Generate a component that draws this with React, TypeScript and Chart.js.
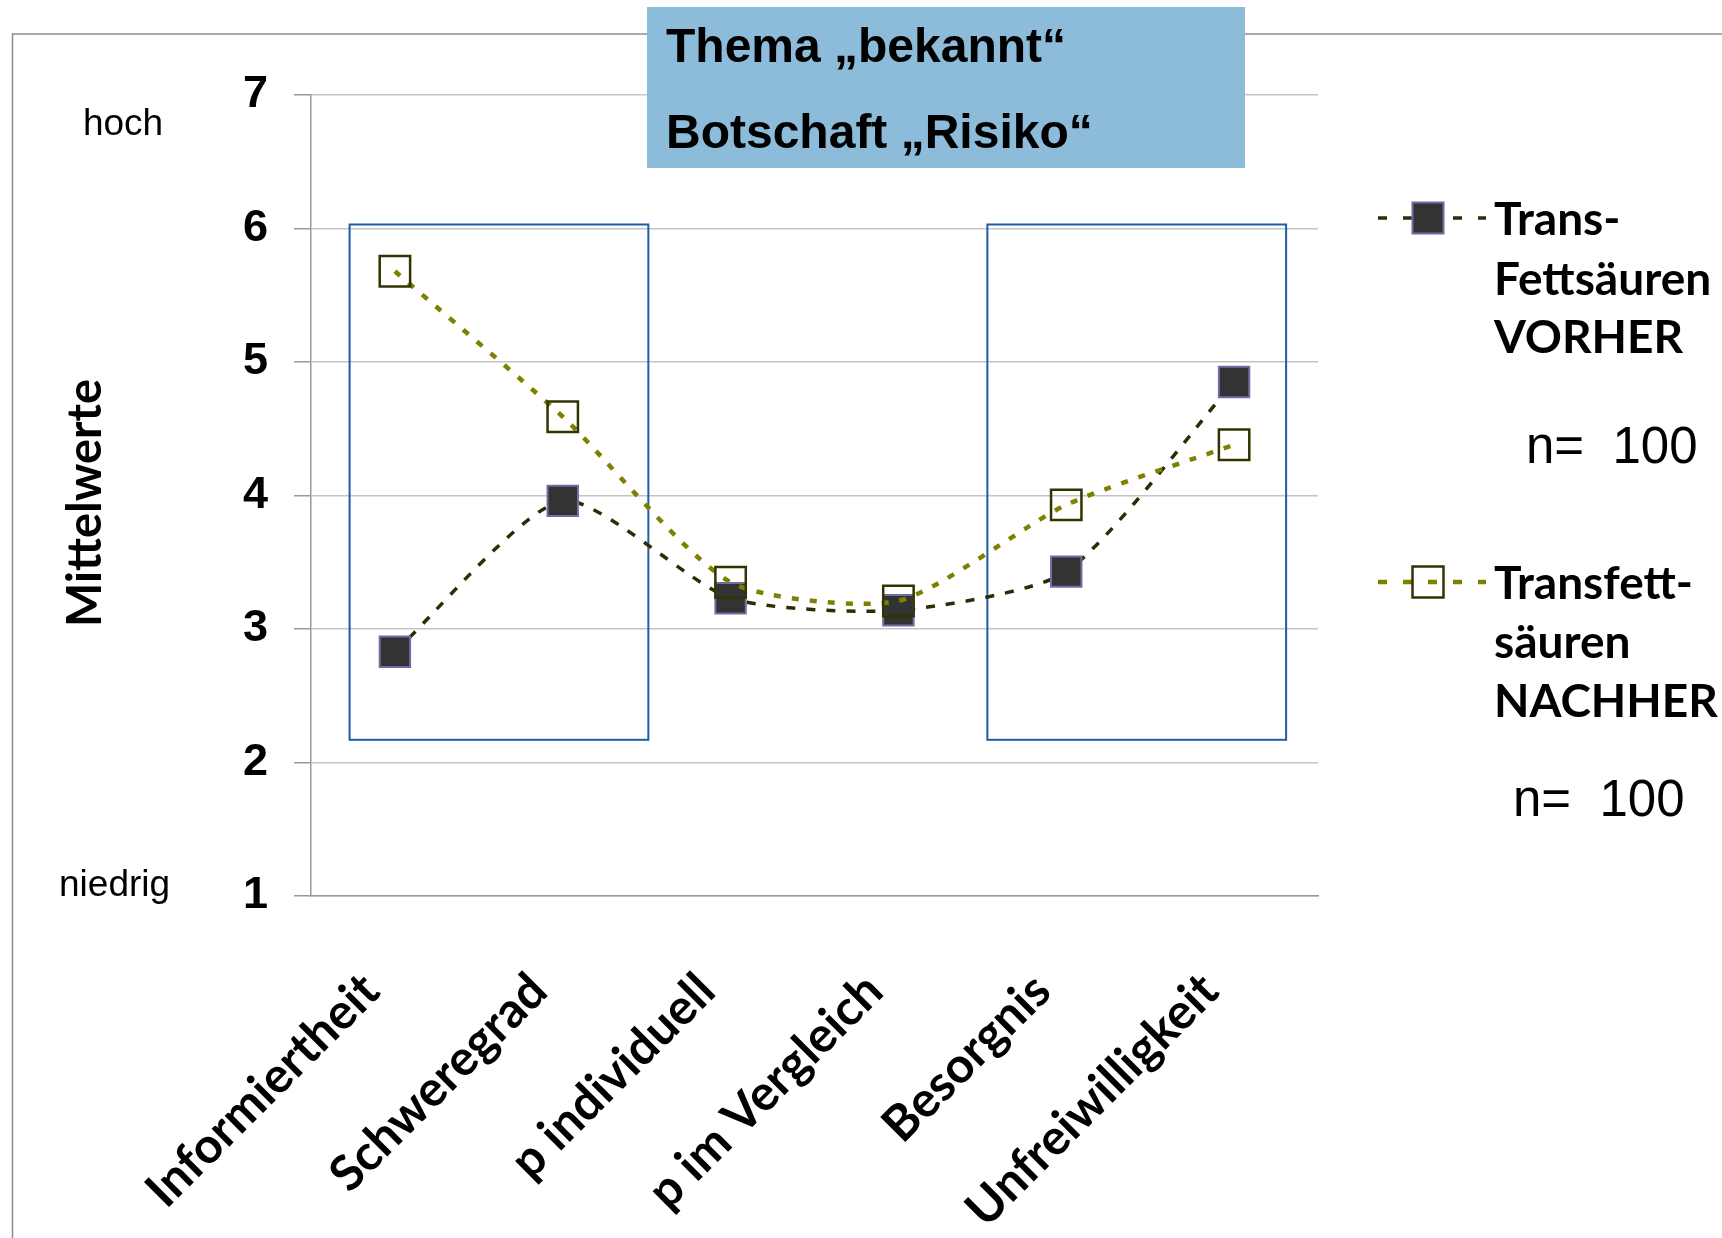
import React, { useEffect, useRef } from 'react';
import { Chart, registerables } from 'chart.js';

Chart.register(...registerables);

// ---- data ----
const categories = ['Informiertheit', 'Schweregrad', 'p individuell', 'p im Vergleich', 'Besorgnis', 'Unfreiwilligkeit'];
const vorherValues = [2.83, 3.96, 3.23, 3.14, 3.43, 4.85];
const nachherValues = [5.68, 4.59, 3.35, 3.21, 3.93, 4.38];
const seriesNames = ['Trans-Fettsäuren VORHER', 'Transfett-säuren NACHHER'];
const legendLines = [['Trans-', 'Fettsäuren', 'VORHER'], ['Transfett-', 'säuren', 'NACHHER']];
const sampleSizes = ['n=  100', 'n=  100'];
const titleLines = ['Thema „bekannt“', 'Botschaft „Risiko“'];
const axisTitle = 'Mittelwerte';
const scaleHigh = 'hoch';
const scaleLow = 'niedrig';
const yMin = 1;
const yMax = 7;
// highlighted category groups (category index range, value range)
const boxFromIndex = [-0.27, 3.53];
const boxToIndex = [1.51, 5.31];
const boxLowValue = [2.17, 2.17];
const boxHighValue = [6.03, 6.03];

const W = 1722;
const H = 1238;

const decorPlugin = {
  id: 'decor',
  beforeDraw(chart: any) {
    const ctx = chart.ctx;
    ctx.save();
    ctx.fillStyle = '#ffffff';
    ctx.fillRect(0, 0, chart.width, chart.height);
    ctx.strokeStyle = '#8c8c8c';
    ctx.lineWidth = 1.5;
    ctx.beginPath();
    ctx.moveTo(12.5, chart.height);
    ctx.lineTo(12.5, 34);
    ctx.lineTo(chart.width, 34);
    ctx.stroke();
    ctx.restore();
  },
  beforeDatasetsDraw(chart: any) {
    const ctx = chart.ctx;
    const xs = chart.scales.x;
    const ys = chart.scales.y;
    ctx.save();
    ctx.strokeStyle = '#1f5ca8';
    ctx.lineWidth = 2;
    for (let i = 0; i < boxFromIndex.length; i++) {
      const x1 = xs.getPixelForValue(boxFromIndex[i]);
      const x2 = xs.getPixelForValue(boxToIndex[i]);
      const y1 = ys.getPixelForValue(boxHighValue[i]);
      const y2 = ys.getPixelForValue(boxLowValue[i]);
      ctx.strokeRect(x1, y1, x2 - x1, y2 - y1);
    }
    ctx.restore();
  },
  afterDraw(chart: any) {
    const ctx = chart.ctx;
    ctx.save();
    // title box
    ctx.fillStyle = '#8cbcda';
    ctx.fillRect(647, 7, 598, 161);
    ctx.fillStyle = '#000';
    ctx.font = 'bold 48px "Liberation Sans", Arial, sans-serif';
    ctx.textAlign = 'left';
    ctx.textBaseline = 'alphabetic';
    ctx.fillText(titleLines[0], 666, 62);
    ctx.fillText(titleLines[1], 666, 148);

    // axis title
    ctx.save();
    ctx.translate(86, 503);
    ctx.rotate(-Math.PI / 2);
    ctx.font = 'bold 47px Lato, "Open Sans", sans-serif';
    ctx.textAlign = 'center';
    ctx.textBaseline = 'middle';
    ctx.fillText(axisTitle, 0, 0);
    ctx.restore();

    // hoch / niedrig
    ctx.font = '37px "Liberation Sans", Arial, sans-serif';
    ctx.textAlign = 'center';
    ctx.fillText(scaleHigh, 123, 135);
    ctx.textAlign = 'left';
    ctx.fillText(scaleLow, 59, 896);

    // legend
    const lineY = [218, 582];
    const textBase = [[235, 295, 353], [599, 658, 717]];
    const nX = [1526, 1513];
    const nY = [463, 816];
    chart.data.datasets.forEach((ds: any, i: number) => {
      ctx.save();
      ctx.strokeStyle = ds.borderColor;
      ctx.lineWidth = ds.borderWidth;
      ctx.setLineDash([9, 16]);
      ctx.beginPath();
      ctx.moveTo(1378, lineY[i]);
      ctx.lineTo(1486, lineY[i]);
      ctx.stroke();
      ctx.setLineDash([]);
      const s = 31;
      if (ds.pointBackgroundColor && ds.pointBackgroundColor !== 'rgba(0,0,0,0)') {
        ctx.fillStyle = ds.pointBackgroundColor;
        ctx.fillRect(1428 - s / 2, lineY[i] - s / 2, s, s);
      }
      ctx.strokeStyle = ds.pointBorderColor;
      ctx.lineWidth = ds.pointBorderWidth;
      ctx.strokeRect(1428 - s / 2, lineY[i] - s / 2, s, s);
      ctx.restore();

      ctx.fillStyle = '#000';
      ctx.font = 'bold 46px Lato, "Open Sans", sans-serif';
      ctx.textAlign = 'left';
      legendLines[i].forEach((t, j) => ctx.fillText(t, 1494, textBase[i][j]));
      ctx.font = '51px "Liberation Sans", Arial, sans-serif';
      ctx.fillText(sampleSizes[i], nX[i], nY[i]);
    });
    ctx.restore();
  },
};

export default function App() {
  const ref = useRef<HTMLCanvasElement | null>(null);
  useEffect(() => {
    if (!ref.current) return;
    const chart = new Chart(ref.current, {
      type: 'line',
      data: {
        labels: categories,
        datasets: [
          {
            label: seriesNames[0],
            data: vorherValues,
            borderColor: '#2d2d05',
            borderWidth: 3.5,
            borderDash: [9, 11],
            pointStyle: 'rect',
            pointRadius: 21.5,
            pointHoverRadius: 21.5,
            pointBackgroundColor: '#333333',
            pointBorderColor: '#6e6ea6',
            pointBorderWidth: 2,
            tension: 0.22,
            fill: false,
            order: 2,
          },
          {
            label: seriesNames[1],
            data: nachherValues,
            borderColor: '#808000',
            borderWidth: 4.5,
            borderDash: [7, 11],
            pointStyle: 'rect',
            pointRadius: 21.5,
            pointHoverRadius: 21.5,
            pointBackgroundColor: 'rgba(0,0,0,0)',
            pointBorderColor: '#333300',
            pointBorderWidth: 2.5,
            tension: 0.22,
            fill: false,
            order: 1,
          },
        ],
      },
      options: {
        responsive: false,
        animation: false,
        devicePixelRatio: 1,
        layout: { padding: { top: 95, right: 404, bottom: 0, left: 0 } },
        plugins: {
          legend: { display: false },
          tooltip: { enabled: false },
          title: { display: false },
        },
        scales: {
          x: {
            type: 'category',
            offset: true,
            grid: { display: false },
            border: { display: true, color: '#999999', width: 1.5 },
            ticks: {
              color: '#000',
              font: { family: 'Lato, "Open Sans", sans-serif', size: 49, weight: 'bold' },
              minRotation: 45,
              maxRotation: 45,
              autoSkip: false,
              padding: 58,
              labelOffset: -24,
            },
            afterFit: (scale: any) => {
              scale.height = H - 896;
            },
          },
          y: {
            min: yMin,
            max: yMax,
            grid: { color: '#c4c4c4', lineWidth: 1.5, tickLength: 17, tickColor: '#999999' },
            border: { display: true, color: '#999999', width: 1.5 },
            ticks: {
              stepSize: 1,
              color: '#000',
              padding: 26,
              font: { family: '"Liberation Sans", Arial, sans-serif', size: 45, weight: 'bold' },
            },
            afterFit: (scale: any) => {
              scale.width = 311;
            },
          },
        },
      },
      plugins: [decorPlugin],
    });
    return () => chart.destroy();
  }, []);
  return (
    <div style={{ position: 'fixed', left: 0, top: 0, width: W, height: H }}>
      <canvas ref={ref} width={W} height={H} style={{ display: 'block', width: W, height: H }} />
    </div>
  );
}
